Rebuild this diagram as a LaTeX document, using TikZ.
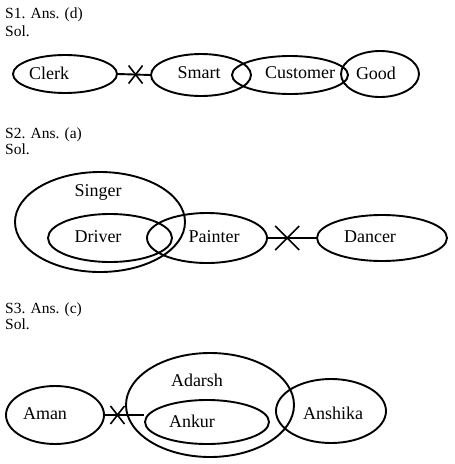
\documentclass[tikz,border=0pt]{standalone}
\usepackage{fontspec}
\setmainfont{Liberation Serif}
\usetikzlibrary{shapes.geometric}
\begin{document}
\begin{tikzpicture}[x=1pt,y=-1pt,
  ell/.style={draw, ellipse, line width=1.9pt, inner sep=0pt},
  lbl/.style={font=\fontsize{18}{20}\selectfont, inner sep=0pt},
  hdr/.style={font=\fontsize{15.5}{18}\selectfont, anchor=base west, inner sep=0pt},
  link/.style={line width=1.9pt},
  cross/.style={line width=1.6pt}]
\useasboundingbox (0,0) rectangle (455,464);
% ---------- S1
\node[hdr] (h1) at (5,18) {S1. Ans. (d)};
\node[hdr] (s1) at (5,36) {Sol.};
\node[ell, minimum width=104pt, minimum height=38pt] (clerk) at (65,74) {};
\node[ell, minimum width=100pt, minimum height=42pt] (smart) at (201,75) {};
\node[ell, minimum width=116pt, minimum height=38pt] (customer) at (290,75) {};
\node[ell, minimum width=78pt, minimum height=46pt] (good) at (380,74) {};
\node[lbl] (lclerk) at (49,73) {Clerk};
\node[lbl] (lsmart) at (199,73) {Smart};
\node[lbl] (lcustomer) at (300,73) {Customer};
\node[lbl] (lgood) at (376,73) {Good};
\draw[link] (clerk.east) -- coordinate[pos=0.55] (x1) (smart.west);
\draw[cross] (x1) +(-7,-9) -- +(7,9) (x1) +(-7,9) -- +(7,-9);
% ---------- S2
\node[hdr] (h2) at (5,138) {S2. Ans. (a)};
\node[hdr] (s2) at (5,154) {Sol.};
\node[ell, minimum width=170pt, minimum height=100pt] (singer) at (100,222) {};
\node[ell, minimum width=124pt, minimum height=48pt] (driver) at (110,238) {};
\node[ell, minimum width=120pt, minimum height=50pt] (painter) at (207,238) {};
\node[ell, minimum width=130pt, minimum height=46pt] (dancer) at (382,238) {};
\node[lbl] (lsinger) at (98,192) {Singer};
\node[lbl] (ldriver) at (98,237) {Driver};
\node[lbl] (lpainter) at (214,237) {Painter};
\node[lbl] (ldancer) at (370,237) {Dancer};
\draw[link] (painter.east) -- coordinate[pos=0.4] (x2) (dancer.west);
\draw[cross] (x2) +(-12,-12) -- +(12,12) (x2) +(-12,12) -- +(12,-12);
% ---------- S3
\node[hdr] (h3) at (5,313) {S3. Ans. (c)};
\node[hdr] (s3) at (5,329) {Sol.};
\node[ell, minimum width=98pt, minimum height=58pt] (aman) at (55,415) {};
\node[ell, minimum width=168pt, minimum height=104pt] (adarsh) at (210,405) {};
\node[ell, minimum width=124pt, minimum height=44pt] (ankur) at (207,422) {};
\node[ell, minimum width=110pt, minimum height=64pt] (anshika) at (331,411) {};
\node[lbl] (laman) at (45,414) {Aman};
\node[lbl] (ladarsh) at (197,380) {Adarsh};
\node[lbl] (lankur) at (192,421) {Ankur};
\node[lbl] (lanshika) at (333,413) {Anshika};
\draw[link] (aman.east) -- coordinate[pos=0.32] (x3) (aman.east -| ankur.west);
\draw[cross] (x3) +(-7,-9) -- +(7,9) (x3) +(-7,9) -- +(7,-9);
\end{tikzpicture}
\end{document}
